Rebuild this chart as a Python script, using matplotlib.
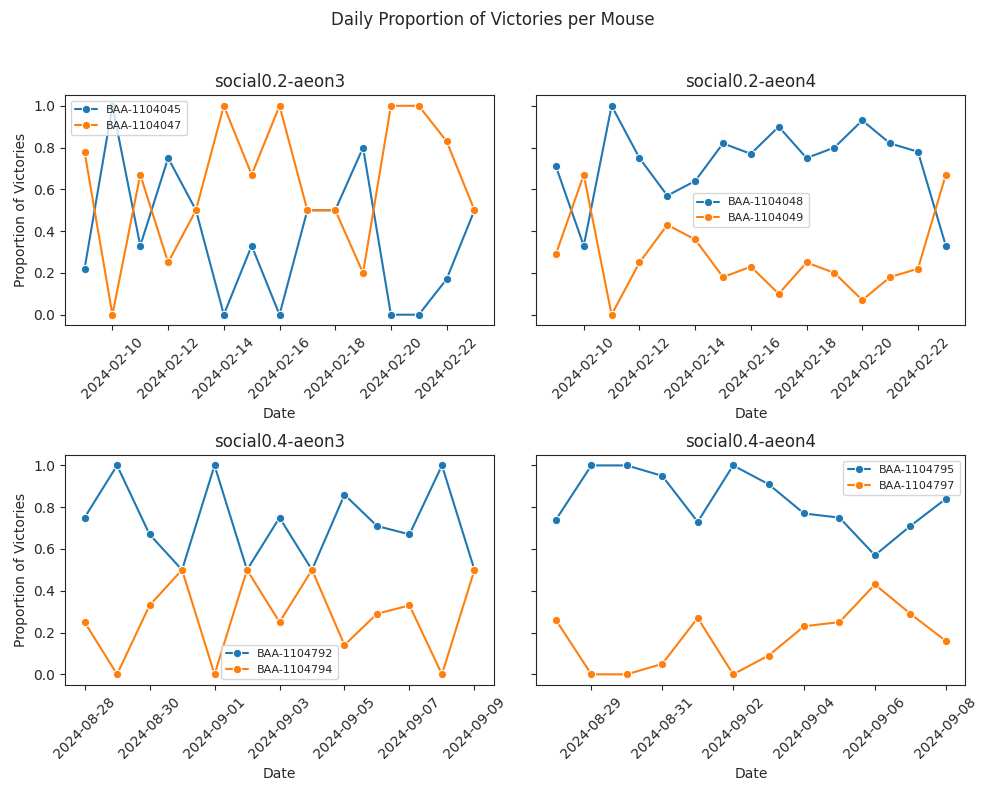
import matplotlib
matplotlib.use("Agg")
import matplotlib.pyplot as plt
import matplotlib.dates as mdates
import seaborn as sns
import pandas as pd

# proportions, one value per day
dates_a = pd.date_range("2024-02-09", "2024-02-23", freq="D")
dates_b = pd.date_range("2024-08-28", "2024-09-09", freq="D")
dates_c = pd.date_range("2024-08-28", "2024-09-08", freq="D")

baa_1104045 = [0.22, 1.0, 0.33, 0.75, 0.5, 0.0, 0.33, 0.0, 0.5, 0.5, 0.8, 0.0, 0.0, 0.17, 0.5]
baa_1104047 = [0.78, 0.0, 0.67, 0.25, 0.5, 1.0, 0.67, 1.0, 0.5, 0.5, 0.2, 1.0, 1.0, 0.83, 0.5]

baa_1104048 = [0.71, 0.33, 1.0, 0.75, 0.57, 0.64, 0.82, 0.77, 0.9, 0.75, 0.8, 0.93, 0.82, 0.78, 0.33]
baa_1104049 = [0.29, 0.67, 0.0, 0.25, 0.43, 0.36, 0.18, 0.23, 0.1, 0.25, 0.2, 0.07, 0.18, 0.22, 0.67]

baa_1104792 = [0.75, 1.0, 0.67, 0.5, 1.0, 0.5, 0.75, 0.5, 0.86, 0.71, 0.67, 1.0, 0.5]
baa_1104794 = [0.25, 0.0, 0.33, 0.5, 0.0, 0.5, 0.25, 0.5, 0.14, 0.29, 0.33, 0.0, 0.5]

baa_1104795 = [0.74, 1.0, 1.0, 0.95, 0.73, 1.0, 0.91, 0.77, 0.75, 0.57, 0.71, 0.84]
baa_1104797 = [0.26, 0.0, 0.0, 0.05, 0.27, 0.0, 0.09, 0.23, 0.25, 0.43, 0.29, 0.16]

# tick dates shown under each panel
ticks_a = dates_a[1::2]
ticks_b = dates_b[::2]
ticks_c = dates_c[1::2]

experiments = [
    ("social0.2-aeon3", dates_a, ticks_a, {"BAA-1104045": baa_1104045, "BAA-1104047": baa_1104047}, "upper left"),
    ("social0.2-aeon4", dates_a, ticks_a, {"BAA-1104048": baa_1104048, "BAA-1104049": baa_1104049}, "center"),
    ("social0.4-aeon3", dates_b, ticks_b, {"BAA-1104792": baa_1104792, "BAA-1104794": baa_1104794}, "lower center"),
    ("social0.4-aeon4", dates_c, ticks_c, {"BAA-1104795": baa_1104795, "BAA-1104797": baa_1104797}, "upper right"),
]

sns.set_style("ticks")

fig, axes = plt.subplots(2, 2, figsize=(9.86, 7.88), dpi=100, sharey=True)

for i, (name, dates, ticks, mice, loc) in enumerate(experiments):
    ax = axes.flat[i]
    for mouse, values in mice.items():
        sns.lineplot(x=dates, y=values, marker="o", label=mouse, ax=ax)
    ax.set_title(name)
    ax.set_xlabel("Date")
    if i % 2 == 0:
        ax.set_ylabel("Proportion of Victories")
    ax.set_xticks(ticks)
    ax.xaxis.set_major_formatter(mdates.DateFormatter("%Y-%m-%d"))
    ax.tick_params(axis="x", rotation=45)
    ax.legend(loc=loc, fontsize=8)

fig.suptitle("Daily Proportion of Victories per Mouse", y=0.986)
fig.subplots_adjust(left=0.066, right=0.979, top=0.879, bottom=0.131,
                    hspace=0.565, wspace=0.099)
plt.savefig("out.png")
